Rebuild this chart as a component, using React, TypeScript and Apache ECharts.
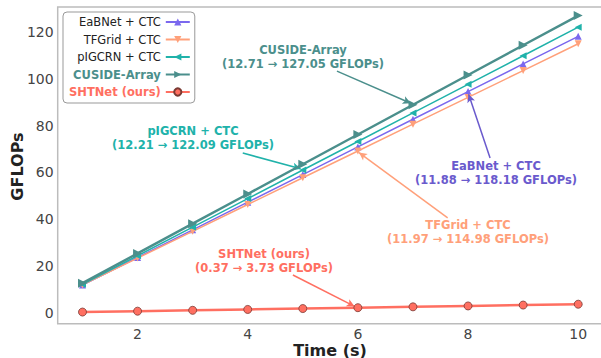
import React, { useEffect, useRef } from "react";
import * as echarts from "echarts";

const timeSteps = [1, 2, 3, 4, 5, 6, 7, 8, 9, 10];
const eabnet = [11.88, 23.69, 35.5, 47.31, 59.12, 70.94, 82.75, 94.56, 106.37, 118.18];
const tfgrid = [11.97, 23.42, 34.86, 46.31, 57.75, 69.2, 80.64, 92.09, 103.53, 114.98];
const pigcrn = [12.21, 24.42, 36.63, 48.84, 61.05, 73.25, 85.46, 97.67, 109.88, 122.09];
const cuside = [12.71, 25.41, 38.12, 50.82, 63.53, 76.23, 88.94, 101.64, 114.35, 127.05];
const shtnet = [0.37, 0.75, 1.12, 1.49, 1.87, 2.24, 2.61, 2.98, 3.36, 3.73];

const names = ["EaBNet + CTC", "TFGrid + CTC", "pIGCRN + CTC", "CUSIDE-Array", "SHTNet (ours)"];
const colors = ["#7B68EE", "#FFA07A", "#20B2AA", "#4B8F8C", "#FF6F61"];
const textColors = ["#6A5ACD", "#FFA07A", "#20B2AA", "#4B8F8C", "#FF6F61"];
const annoLines = [
  "(11.88 → 118.18 GFLOPs)",
  "(11.97 → 114.98 GFLOPs)",
  "(12.21 → 122.09 GFLOPs)",
  "(12.71 → 127.05 GFLOPs)",
  "(0.37 → 3.73 GFLOPs)",
];
const xTitle = "Time (s)";
const yTitle = "GFLOPs";

const FONT = "DejaVu Sans";

export default function App() {
  const ref = useRef<HTMLDivElement>(null);
  useEffect(() => {
    if (!ref.current) return;
    const chart = echarts.init(ref.current, null, { renderer: "svg" });
    const data = [eabnet, tfgrid, pigcrn, cuside, shtnet];
    const symbols = ["triangle", "triangle", "triangle", "triangle", "circle"];
    const rotates = [0, 180, 90, -90, 0];
    const sizes = [7, 7, 7, 9, 8];
    const widths = [1.5, 1.5, 1.5, 2.5, 2.5];
    const arrows: number[][][] = [
      [[8.4, 66.2], [8.01, 93.4]],
      [[7.63, 40.6], [6.02, 68.5]],
      [[3.91, 68.3], [4.96, 61.6]],
      [[5.62, 103.3], [6.96, 89.6]],
      [[4.82, 16.2], [5.94, 2.8]],
    ];
    const series = data.map((d, i) => ({
      type: "line",
      name: names[i],
      data: timeSteps.map((t, k) => [t, d[k]]),
      symbol: symbols[i],
      symbolRotate: rotates[i],
      symbolSize: sizes[i],
      showAllSymbol: true,
      lineStyle: { color: colors[i], width: widths[i] },
      itemStyle:
        i === 4
          ? { color: colors[i], borderColor: "#7a3a33", borderWidth: 0.8 }
          : { color: colors[i] },
      z: 2 + i,
      markLine: {
        silent: true,
        animation: false,
        symbol: ["none", "arrow"],
        symbolSize: [6, 8],
        label: { show: false },
        lineStyle: { color: textColors[i], width: 1.5, type: "solid" },
        data: [[{ coord: arrows[i][0] }, { coord: arrows[i][1] }]],
      },
    }));

    const anno = (x: number, y: number, i: number) => ({
      type: "text",
      x,
      y,
      z: 100,
      style: {
        text: names[i] + "\n" + annoLines[i],
        fill: textColors[i],
        font: `bold 11.5px "${FONT}"`,
        align: "center",
        verticalAlign: "middle",
        lineHeight: 13.5,
      },
    });

    chart.setOption({
      animation: false,
      textStyle: { fontFamily: FONT },
      grid: {
        left: 57.7,
        right: -2,
        top: 7,
        bottom: 34.3,
        outerBoundsMode: "none",
        containLabel: false,
        show: true,
        borderColor: "#bcbcbc",
        borderWidth: 1.5,
        backgroundColor: "transparent",
      },
      xAxis: {
        type: "value",
        min: 0.55,
        max: 10.45,
        splitNumber: 5,
        axisLine: { show: false },
        axisTick: { show: false },
        splitLine: { show: false },
        axisLabel: {
          color: "#444",
          fontSize: 14,
          fontFamily: FONT,
          margin: 3,
          formatter: (v: number) => (Math.abs(v % 2) < 1e-6 ? String(v) : ""),
        },
      },
      yAxis: {
        type: "value",
        min: -4.6,
        max: 130.7,
        splitNumber: 7,
        axisLine: { show: false },
        axisTick: { show: false },
        splitLine: { show: false },
        axisLabel: {
          color: "#444",
          fontSize: 14,
          fontFamily: FONT,
          margin: 4,
          formatter: (v: number) => (Math.abs(v % 20) < 1e-6 ? String(v) : ""),
        },
      },
      legend: {
        orient: "vertical",
        align: "right",
        left: 63,
        top: 12,
        itemWidth: 24,
        itemHeight: 9,
        itemGap: 5.5,
        padding: [4, 4, 5, 6],
        backgroundColor: "rgba(255,255,255,0.85)",
        borderColor: "#999",
        borderWidth: 1,
        borderRadius: 4,
        textStyle: { fontSize: 11.5, fontFamily: FONT, color: "#222" },
        data: names.map((n, i) => ({
          name: n,
          textStyle:
            i >= 3
              ? { color: textColors[i], fontWeight: "bold" }
              : { color: "#222" },
        })),
      },
      graphic: [
        anno(303, 57, 3),
        anno(193, 138, 2),
        anno(496, 173, 0),
        anno(468, 232, 1),
        anno(264, 261, 4),
        {
          type: "text",
          x: 330,
          y: 350,
          style: {
            text: xTitle,
            fill: "#222",
            font: `bold 16px "${FONT}"`,
            align: "center",
            verticalAlign: "middle",
          },
        },
        {
          type: "text",
          x: 17,
          y: 166.5,
          rotation: Math.PI / 2,
          style: {
            text: yTitle,
            fill: "#222",
            font: `bold 16px "${FONT}"`,
            align: "center",
            verticalAlign: "middle",
          },
        },
      ],
      series,
    });
    return () => chart.dispose();
  }, []);
  return (
    <div
      ref={ref}
      style={{ position: "fixed", left: 0, top: 0, width: 601, height: 358, background: "#fff" }}
    />
  );
}
